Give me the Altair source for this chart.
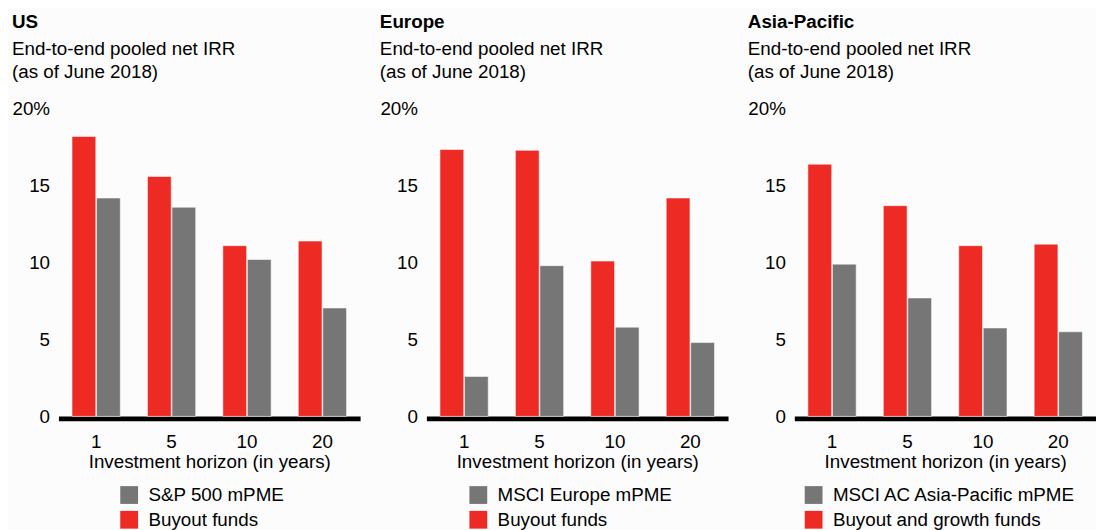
import altair as alt
import pandas as pd

horizons = ["1", "5", "10", "20"]

us_buyout = [18.2, 15.6, 11.1, 11.4]
us_pme = [14.2, 13.6, 10.2, 7.05]
eu_buyout = [17.35, 17.3, 10.1, 14.2]
eu_pme = [2.6, 9.8, 5.8, 4.8]
ap_buyout = [16.4, 13.7, 11.1, 11.2]
ap_pme = [9.9, 7.7, 5.75, 5.5]

panels = [
    ("US", "Buyout funds", "S&P 500 mPME", us_buyout, us_pme, 62),
    ("Europe", "Buyout funds", "MSCI Europe mPME", eu_buyout, eu_pme, 43),
    ("Asia-Pacific", "Buyout and growth funds", "MSCI AC Asia-Pacific mPME", ap_buyout, ap_pme, 10),
]

subtitle = ["End-to-end pooled net IRR", "(as of June 2018)"]
RED = "#EE2A24"
GRAY = "#767676"
FONT = "Liberation Sans"
FS = 19


def make_panel(title, red_label, gray_label, red_vals, gray_vals, legend_x):
    rows = []
    for h, v in zip(horizons, red_vals):
        rows.append({"horizon": h, "series": red_label, "order": 0, "value": v})
    for h, v in zip(horizons, gray_vals):
        rows.append({"horizon": h, "series": gray_label, "order": 1, "value": v})
    df = pd.DataFrame(rows)
    return (
        alt.Chart(df, title=alt.Title(
            title, subtitle=subtitle, anchor="start", fontSize=FS, fontWeight="bold",
            font=FONT, subtitleFont=FONT, subtitleFontSize=FS, subtitleColor="black",
            color="black", subtitlePadding=9, subtitleLineHeight=23, offset=18,
        ))
        .mark_bar(stroke="white", strokeWidth=1, strokeOpacity=0.55)
        .encode(
            x=alt.X("horizon:N", sort=horizons,
                    scale=alt.Scale(paddingInner=0.36, paddingOuter=0.18),
                    axis=alt.Axis(title="Investment horizon (in years)", labelAngle=0,
                                  ticks=False, domainColor="black", domainWidth=5,
                                  offset=2, labelPadding=14, titlePadding=2,
                                  labelFontSize=FS, titleFontSize=FS,
                                  titleFontWeight="normal", labelColor="black",
                                  titleColor="black", labelFont=FONT, titleFont=FONT)),
            xOffset=alt.XOffset("order:O", scale=alt.Scale(paddingInner=0.03)),
            y=alt.Y("value:Q", scale=alt.Scale(domain=[0, 20], nice=False),
                    axis=alt.Axis(title=None, values=[0, 5, 10, 15, 20], grid=False,
                                  domain=False, ticks=False, labelPadding=9,
                                  labelFontSize=FS, labelColor="black", labelFont=FONT,
                                  labelExpr="datum.value == 20 ? '20%' : datum.label")),
            color=alt.Color("series:N",
                            scale=alt.Scale(domain=[gray_label, red_label], range=[GRAY, RED]),
                            legend=alt.Legend(title=None, orient="none", legendX=legend_x,
                                              legendY=381, direction="vertical",
                                              symbolType="square", symbolSize=324,
                                              symbolStrokeWidth=0, labelFontSize=FS,
                                              labelFont=FONT, labelColor="black",
                                              labelOffset=10, rowPadding=5,
                                              labelLimit=400)),
        )
        .properties(width=305, height=311)
    )


charts = [make_panel(*p) for p in panels]

chart = (
    alt.hconcat(*charts, spacing=19)
    .resolve_scale(color="independent")
    .properties(padding={"left": 3, "top": 2, "right": 0, "bottom": 0}, background="#fcfcfc")
    .configure_view(stroke=None)
)

chart.save("out.html", embed_options={"renderer": "svg", "actions": False})
